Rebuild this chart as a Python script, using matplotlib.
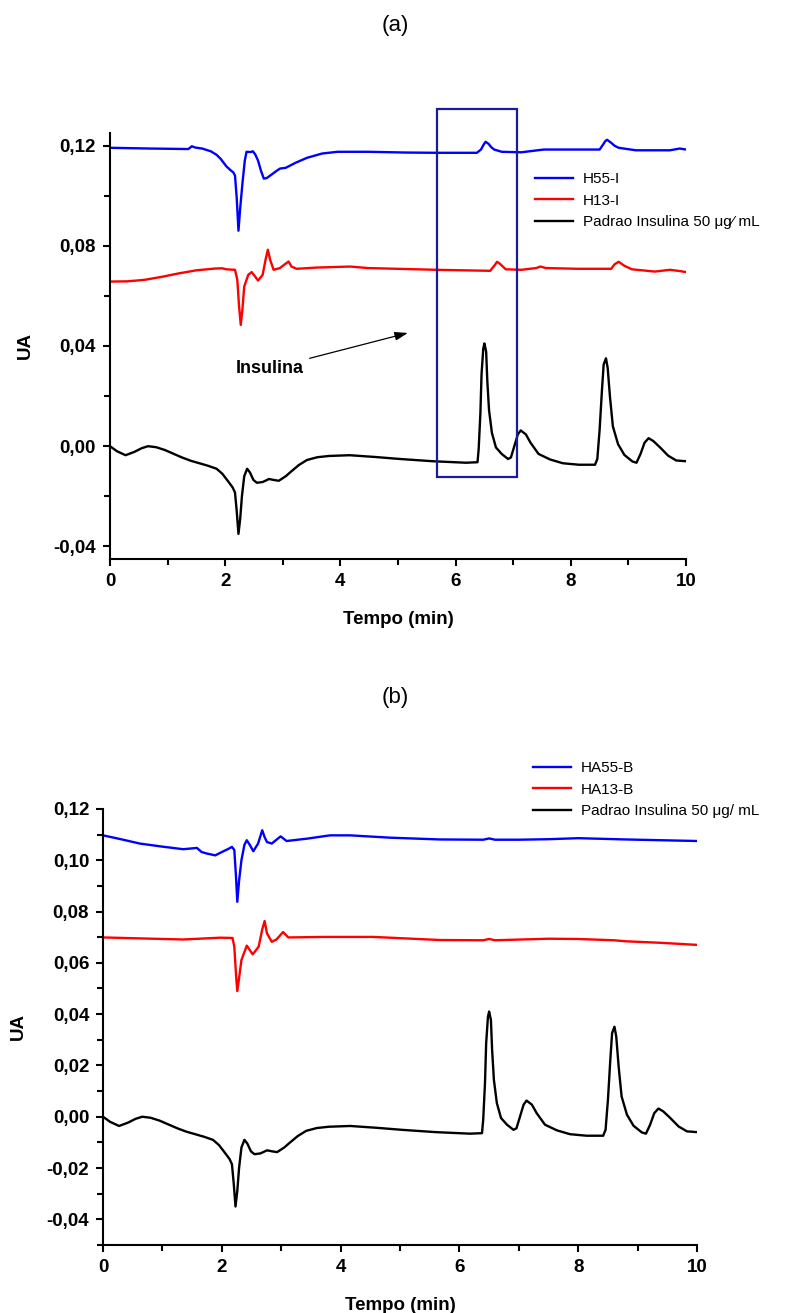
import matplotlib
matplotlib.use('Agg')
import matplotlib.pyplot as plt
from matplotlib.patches import Rectangle
from matplotlib.ticker import MultipleLocator, FuncFormatter

plt.rcParams['font.family'] = ['Liberation Sans', 'DejaVu Sans']

# ---- data (time in min, UA) ----
# (a) H55-I
h55_t = [0.0, 0.7, 1.36, 1.42, 1.48, 1.60, 1.75, 1.85, 1.92, 2.02, 2.10, 2.14, 2.17, 2.20, 2.23,
         2.26, 2.30, 2.34, 2.37, 2.44, 2.48, 2.52, 2.57, 2.62, 2.67, 2.72, 2.78, 2.88, 2.95,
         3.05, 3.22, 3.42, 3.68, 3.95, 4.48, 5.14, 5.67, 6.37, 6.44, 6.49, 6.52, 6.57, 6.62,
         6.67, 6.80, 7.14, 7.53, 7.80, 8.50, 8.56, 8.60, 8.63, 8.70, 8.76, 8.83, 9.13, 9.72,
         9.89, 10.0]
h55_ua = [0.1191, 0.1188, 0.1186, 0.1197, 0.1192, 0.1188, 0.1177, 0.1163, 0.1147, 0.1117,
          0.1100, 0.1093, 0.1080, 0.0990, 0.0860, 0.0950, 0.1051, 0.1140, 0.1175, 0.1174,
          0.1177, 0.1165, 0.1140, 0.1100, 0.1068, 0.1070, 0.1080, 0.1097, 0.1108, 0.1111,
          0.1131, 0.1151, 0.1168, 0.1175, 0.1175, 0.1172, 0.1171, 0.1171, 0.1184, 0.1205,
          0.1215, 0.1207, 0.1193, 0.1184, 0.1175, 0.1173, 0.1184, 0.1184, 0.1184, 0.1204,
          0.1218, 0.1223, 0.1211, 0.1199, 0.1191, 0.1181, 0.1181, 0.1188, 0.1184]

# (a) H13-I
h13_t = [0.0, 0.3, 0.6, 0.9, 1.2, 1.5, 1.82, 1.95, 2.02, 2.17, 2.21, 2.24, 2.27, 2.30, 2.33,
         2.40, 2.46, 2.52, 2.57, 2.65, 2.70, 2.74, 2.78, 2.84, 2.95, 3.04, 3.10, 3.15, 3.24,
         3.59, 4.17, 4.48, 5.67, 6.60, 6.67, 6.72, 6.77, 6.87, 7.14, 7.40, 7.47, 7.57, 8.13,
         8.70, 8.76, 8.83, 8.93, 9.06, 9.46, 9.72, 9.86, 10.0]
h13_ua = [0.0657, 0.0658, 0.0664, 0.0676, 0.0690, 0.0702, 0.0709, 0.0710, 0.0706, 0.0704,
          0.0664, 0.0560, 0.0484, 0.0550, 0.0637, 0.0684, 0.0695, 0.0677, 0.0661, 0.0684,
          0.0744, 0.0784, 0.0744, 0.0704, 0.0711, 0.0727, 0.0737, 0.0717, 0.0708, 0.0713,
          0.0717, 0.0711, 0.0704, 0.0700, 0.0720, 0.0736, 0.0728, 0.0706, 0.0704, 0.0711,
          0.0717, 0.0711, 0.0708, 0.0708, 0.0726, 0.0736, 0.0720, 0.0706, 0.0697, 0.0704,
          0.0700, 0.0695]

# Padrao Insulina 50 ug/mL (same standard in both panels)
pad_t = [0.0, 0.12, 0.27, 0.42, 0.55, 0.66, 0.80, 0.95, 1.10, 1.25, 1.40, 1.55, 1.70, 1.85,
         1.95, 2.05, 2.13, 2.17, 2.20, 2.23, 2.26, 2.29, 2.33, 2.38, 2.43, 2.49, 2.55, 2.65,
         2.76, 2.85, 2.93, 3.05, 3.15, 3.28, 3.42, 3.60, 3.80, 4.16, 4.60, 5.03, 5.60, 6.18,
         6.38, 6.40, 6.43, 6.45, 6.48, 6.50, 6.53, 6.55, 6.58, 6.63, 6.70, 6.80, 6.91, 6.96,
         7.02, 7.08, 7.13, 7.22, 7.30, 7.44, 7.64, 7.86, 8.14, 8.42, 8.46, 8.50, 8.54, 8.57,
         8.61, 8.64, 8.68, 8.73, 8.82, 8.93, 9.07, 9.14, 9.21, 9.28, 9.35, 9.43, 9.55, 9.69,
         9.83, 10.0]
pad_ua = [0.0, -0.0020, -0.0036, -0.0023, -0.0008, 0.0, -0.0004, -0.0015, -0.0030, -0.0045,
          -0.0058, -0.0068, -0.0078, -0.0090, -0.0110, -0.0140, -0.0165, -0.0185, -0.0260,
          -0.0350, -0.0290, -0.0200, -0.0120, -0.0090, -0.0105, -0.0135, -0.0146, -0.0143,
          -0.0131, -0.0135, -0.0138, -0.0120, -0.0100, -0.0075, -0.0055, -0.0044, -0.0039,
          -0.0036, -0.0043, -0.0051, -0.0060, -0.0066, -0.0064, -0.0012, 0.0131, 0.0287,
          0.0390, 0.0410, 0.0377, 0.0261, 0.0144, 0.0053, -0.0005, -0.0031, -0.0051, -0.0045,
          0.0001, 0.0047, 0.0063, 0.0047, 0.0014, -0.0031, -0.0053, -0.0068, -0.0074, -0.0074,
          -0.0051, 0.0066, 0.0222, 0.0326, 0.0351, 0.0312, 0.0196, 0.0079, 0.0008, -0.0035,
          -0.0061, -0.0066, -0.0031, 0.0014, 0.0032, 0.0021, -0.0005, -0.0038, -0.0057, -0.0060]

# (b) HA55-B
ha55_t = [0.0, 0.3, 0.62, 1.0, 1.35, 1.58, 1.66, 1.75, 1.89, 2.00, 2.10, 2.17, 2.21, 2.24, 2.26,
          2.29, 2.33, 2.38, 2.42, 2.47, 2.53, 2.61, 2.68, 2.72, 2.76, 2.84, 2.92, 2.99, 3.09,
          3.43, 3.82, 4.16, 4.83, 5.67, 6.40, 6.50, 6.60, 7.00, 7.50, 8.00, 8.80, 9.40, 10.0]
ha55_ua = [0.1097, 0.1082, 0.1065, 0.1053, 0.1043, 0.1048, 0.1032, 0.1026, 0.1019, 0.1032,
           0.1043, 0.1052, 0.1040, 0.0930, 0.0838, 0.0920, 0.1000, 0.1060, 0.1078, 0.1060,
           0.1035, 0.1065, 0.1117, 0.1090, 0.1071, 0.1065, 0.1080, 0.1093, 0.1075, 0.1084,
           0.1097, 0.1097, 0.1088, 0.1081, 0.1080, 0.1085, 0.1080, 0.1080, 0.1082, 0.1086,
           0.1081, 0.1078, 0.1075]

# (b) HA13-B
ha13_t = [0.0, 1.35, 1.97, 2.18, 2.21, 2.24, 2.26, 2.29, 2.33, 2.42, 2.52, 2.62, 2.68, 2.72,
          2.76, 2.84, 2.92, 3.03, 3.12, 3.71, 4.55, 5.67, 6.40, 6.50, 6.60, 7.50, 8.00, 8.60,
          8.80, 9.40, 10.0]
ha13_ua = [0.0699, 0.0691, 0.0698, 0.0697, 0.0663, 0.0550, 0.0490, 0.0540, 0.0611, 0.0667,
           0.0633, 0.0663, 0.0730, 0.0763, 0.0715, 0.0682, 0.0691, 0.0720, 0.0699, 0.0701,
           0.0701, 0.0689, 0.0688, 0.0693, 0.0688, 0.0694, 0.0693, 0.0688, 0.0684, 0.0678,
           0.0670]

labels_a = ['H55-I', 'H13-I', 'Padrao Insulina 50 \u03bcg\u2044 mL']
labels_b = ['HA55-B', 'HA13-B', 'Padrao Insulina 50 \u03bcg/ mL']

# region of the insulin peak (box in panel a)
box_t = (5.68, 7.07)
box_ua = (-0.0124, 0.1344)


def comma(v, pos):
    return ('%.2f' % v).replace('.', ',')


def style_axis(ax, ylim, ymaj, ymin):
    ax.set_xlim(0, 10)
    ax.set_ylim(*ylim)
    ax.spines['top'].set_visible(False)
    ax.spines['right'].set_visible(False)
    ax.spines['left'].set_linewidth(1.5)
    ax.spines['bottom'].set_linewidth(1.5)
    ax.xaxis.set_major_locator(MultipleLocator(2))
    ax.xaxis.set_minor_locator(MultipleLocator(1))
    ax.yaxis.set_major_locator(MultipleLocator(ymaj))
    ax.yaxis.set_minor_locator(MultipleLocator(ymin))
    ax.yaxis.set_major_formatter(FuncFormatter(comma))
    ax.tick_params(which='major', direction='out', length=5, width=1.5, labelsize=13.5, pad=5)
    ax.tick_params(which='minor', direction='out', length=4, width=1.5)
    for t in ax.get_xticklabels() + ax.get_yticklabels():
        t.set_fontweight('bold')
    ax.set_xlabel('Tempo (min)', fontsize=13.5, fontweight='bold', labelpad=15)
    ax.set_ylabel('UA', fontsize=13.5, fontweight='bold', labelpad=14)


fig = plt.figure(figsize=(7.92, 13.13), dpi=100)

# ---------- (a) ----------
ax1 = fig.add_axes([0.1389, 0.5743, 0.7273, 0.3244])
l1, = ax1.plot(h55_t, h55_ua, color='#0000ff', lw=1.7)
l2, = ax1.plot(h13_t, h13_ua, color='#ff0000', lw=1.7)
l3, = ax1.plot(pad_t, pad_ua, color='black', lw=1.7)
style_axis(ax1, (-0.045, 0.125), 0.04, 0.02)
ax1.add_patch(Rectangle((box_t[0], box_ua[0]), box_t[1] - box_t[0], box_ua[1] - box_ua[0],
                        fill=False, edgecolor='#1a1aa0', lw=1.6, clip_on=False, zorder=5))
ax1.annotate('Insulina', xy=(5.17, 0.0452), xytext=(2.19, 0.031), ha='left', va='center',
             fontsize=13, fontweight='bold',
             arrowprops=dict(arrowstyle='-|>,head_length=0.6,head_width=0.2', lw=0.9,
                             color='black', shrinkA=2, shrinkB=0))
ax1.legend([l1, l2, l3], labels_a, frameon=False, fontsize=11, loc='upper left',
           bbox_to_anchor=(535 / 792, 1 - 172 / 1313), bbox_transform=fig.transFigure,
           borderaxespad=0, borderpad=0, handlelength=2.5, handletextpad=0.65, labelspacing=0.5)
fig.text(0.4987, 1 - 26 / 1313, '(a)', ha='center', va='center', fontsize=16)

# ---------- (b) ----------
ax2 = fig.add_axes([0.1301, 0.0518, 0.75, 0.3321])
m1, = ax2.plot(ha55_t, ha55_ua, color='#0000ff', lw=1.7)
m2, = ax2.plot(ha13_t, ha13_ua, color='#ff0000', lw=1.7)
m3, = ax2.plot(pad_t, pad_ua, color='black', lw=1.7)
style_axis(ax2, (-0.05, 0.12), 0.02, 0.01)
ax2.legend([m1, m2, m3], labels_b, frameon=False, fontsize=11, loc='upper left',
           bbox_to_anchor=(533 / 792, 1 - 761 / 1313), bbox_transform=fig.transFigure,
           borderaxespad=0, borderpad=0, handlelength=2.5, handletextpad=0.65, labelspacing=0.5)
fig.text(0.4987, 1 - 697 / 1313, '(b)', ha='center', va='center', fontsize=16)

fig.savefig('out.png', dpi=100)
